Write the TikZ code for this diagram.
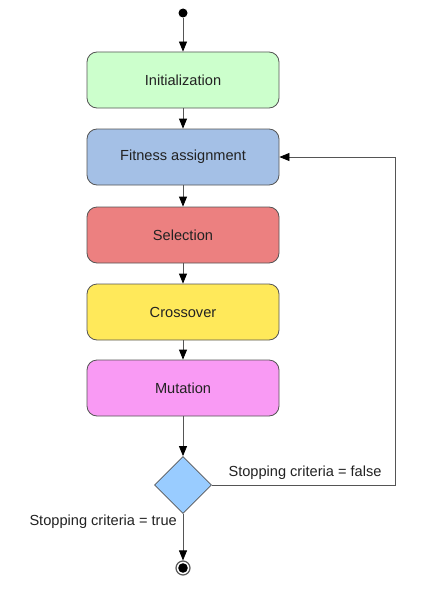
\documentclass[tikz,border=0pt]{standalone}
\usepackage{fontspec}
\setmainfont{Liberation Sans}
\usetikzlibrary{shapes.geometric,arrows.meta}
\definecolor{initc}{HTML}{CCFFCC}
\definecolor{fitc}{HTML}{A4C0E6}
\definecolor{selc}{HTML}{EC8080}
\definecolor{crossc}{HTML}{FFE95A}
\definecolor{mutc}{HTML}{F99AF4}
\definecolor{decc}{HTML}{99CCFF}
\definecolor{linec}{HTML}{555555}
\definecolor{textc}{HTML}{222222}
\begin{document}
\begin{tikzpicture}[x=1pt,y=-1pt,
  box/.style={draw=linec, rounded corners=10pt, minimum width=192pt, minimum height=56pt, inner sep=0pt,
    text=textc, font=\fontsize{14.6}{17}\selectfont, line width=0.8pt},
  arr/.style={-{Triangle[length=10pt,width=8pt,color=black]}, draw=linec, line width=0.8pt},
  lbl/.style={text=textc, font=\fontsize{14.6}{17}\selectfont, inner sep=0pt}]
\useasboundingbox[fill=white] (0,0) rectangle (431,602);
\node[circle,fill=black,inner sep=0pt,minimum size=9pt] (start) at (183,13) {};
\node[box,fill=initc] (init) at (183,80) {Initialization};
\node[box,fill=fitc] (fit) at (183,157) {Fitness assignment};
\node[box,fill=selc] (sel) at (183,235) {Selection};
\node[box,fill=crossc] (cross) at (183,312) {Crossover};
\node[box,fill=mutc] (mut) at (183,388) {Mutation};
\node[diamond,draw=linec,fill=decc,line width=0.8pt,inner sep=0pt,minimum width=57pt,minimum height=57pt] (dec) at (183,485) {};
\node[circle,draw=black!65,line width=1.2pt,minimum size=14pt,inner sep=0pt] (end) at (183,568) {};
\fill[black] (end.center) circle (4.8pt);
\draw[arr] (start) -- (init);
\draw[arr] (init) -- (fit);
\draw[arr] (fit) -- (sel);
\draw[arr] (sel) -- (cross);
\draw[arr] (cross) -- (mut);
\draw[arr] (mut) -- (dec);
\draw[arr] (dec) -- (end);
\coordinate (c1) at (395,485);
\coordinate (c2) at (395,157);
\draw[arr] (dec.east) -- (c1) -- (c2) -- (fit.east);
\node[lbl] (lf) at (305,473) {Stopping criteria = false};
\node[lbl,anchor=east] (lt) at (177,522) {Stopping criteria = true};
\end{tikzpicture}
\end{document}
